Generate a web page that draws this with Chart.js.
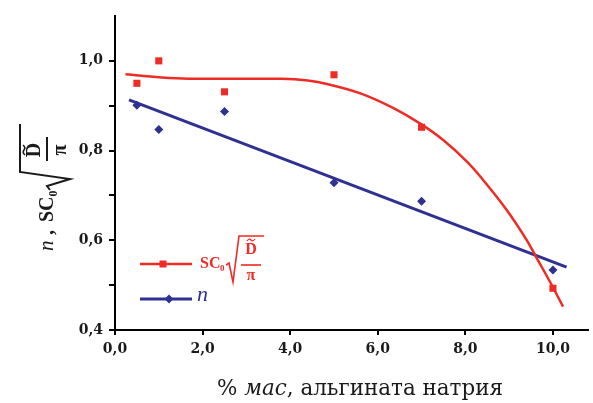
<!DOCTYPE html>
<html><head><meta charset="utf-8">
<script src="https://cdn.jsdelivr.net/npm/chart.js@4/dist/chart.umd.min.js"></script>
<style>html,body{margin:0;padding:0;background:#fff;}canvas{display:block;}</style>
</head><body>
<canvas id="c" width="593" height="403"></canvas>
<script>
// ---- data ----
const X_VALUES = [0.5, 1.0, 2.5, 5.0, 7.0, 10.0];
const SC_VALUES = [0.950, 1.000, 0.931, 0.969, 0.852, 0.493];
const N_VALUES = [0.901, 0.847, 0.887, 0.728, 0.687, 0.534];
const SC_FIT_X = [0.24, 1.4, 2.6, 3.8, 4.4, 4.86, 5.62, 6.37, 6.97, 7.5, 8.03, 8.41, 8.94, 9.39, 9.62, 9.99, 10.23];
const SC_FIT_Y = [0.970, 0.961, 0.960, 0.960, 0.956, 0.948, 0.927, 0.894, 0.860, 0.823, 0.776, 0.734, 0.668, 0.602, 0.562, 0.497, 0.452];
const N_FIT_X = [0.32, 10.31];
const N_FIT_Y = [0.913, 0.540];
const X_TICK_VALUES = [0, 2, 4, 6, 8, 10];
const X_TICK_LABELS = ['0,0', '2,0', '4,0', '6,0', '8,0', '10,0'];
const Y_TICK_VALUES = [0.4, 0.5, 0.6, 0.7, 0.8, 0.9, 1.0];
const Y_TICK_LABELS = ['0,4', '', '0,6', '', '0,8', '', '1,0'];
const X_TITLE_PARTS = ['% ', 'мас', ', альгината натрия'];
const LEGEND_N = 'n';

const RED = '#ee2b24';
const BLUE = '#2e3192';
const SERIF = '"Liberation Serif", "DejaVu Serif", serif';
const WIDE_SERIF = '"DejaVu Serif", serif';
const zip = (xs, ys) => xs.map((x, i) => ({ x: x, y: ys[i] }));

function drawExpr(ctx, ox, oy, g, color) {
  ctx.save();
  ctx.translate(ox, oy);
  if (g.rot) ctx.rotate(-Math.PI / 2);
  ctx.fillStyle = color; ctx.strokeStyle = color;
  ctx.textBaseline = 'alphabetic'; ctx.textAlign = 'left';
  ctx.font = g.w + ' ' + g.f + 'px ' + SERIF;
  ctx.fillText('SC', 0, 0);
  ctx.font = g.w + ' ' + g.subF + 'px ' + SERIF;
  ctx.fillText('0', g.subU, g.subV);
  ctx.lineWidth = g.lw; ctx.lineJoin = 'miter'; ctx.lineCap = 'butt';
  ctx.beginPath();
  g.rad.forEach((p, i) => i ? ctx.lineTo(p[0], p[1]) : ctx.moveTo(p[0], p[1]));
  ctx.stroke();
  ctx.textAlign = 'center';
  ctx.font = g.w + ' ' + g.f + 'px ' + SERIF;
  ctx.fillText('D', g.fracU, g.dV);
  const c = g.fracU, t = g.tildeV, hw = g.tildeW;
  ctx.lineWidth = g.lw * 0.8;
  ctx.beginPath();
  ctx.moveTo(c - hw, t + 1);
  ctx.quadraticCurveTo(c - hw / 2, t - 2, c, t);
  ctx.quadraticCurveTo(c + hw / 2, t + 2, c + hw, t - 1);
  ctx.stroke();
  ctx.fillRect(g.barU0, g.barV - g.lw / 2, g.barU1 - g.barU0, g.lw);
  ctx.font = g.w + ' ' + g.f + 'px ' + SERIF;
  ctx.fillText('π', g.fracU, g.piV);
  ctx.restore();
}

const bgPlugin = {
  id: 'bg',
  beforeDraw(chart) {
    const ctx = chart.ctx;
    ctx.save(); ctx.fillStyle = '#ffffff';
    ctx.fillRect(0, 0, chart.width, chart.height); ctx.restore();
  }
};

const textPlugin = {
  id: 'texts',
  afterDraw(chart) {
    const ctx = chart.ctx;
    // x-axis title
    ctx.save();
    ctx.fillStyle = '#1a1a1a'; ctx.textBaseline = 'alphabetic'; ctx.textAlign = 'left';
    const fonts = ['22px ' + WIDE_SERIF, 'italic 22px ' + WIDE_SERIF, '22px ' + WIDE_SERIF];
    let total = 0;
    X_TITLE_PARTS.forEach((s, i) => { ctx.font = fonts[i]; total += ctx.measureText(s).width; });
    const sx = 286 / total;
    ctx.translate(360 - 143, 395);
    ctx.scale(Math.min(1.15, Math.max(0.85, sx)), 1);
    let x = 0;
    X_TITLE_PARTS.forEach((s, i) => { ctx.font = fonts[i]; ctx.fillText(s, x, 0); x += ctx.measureText(s).width; });
    ctx.restore();

    // y-axis title (rotated)
    ctx.save();
    ctx.translate(53, 222); ctx.rotate(-Math.PI / 2);
    ctx.fillStyle = '#1a1a1a'; ctx.textBaseline = 'alphabetic'; ctx.textAlign = 'left';
    ctx.font = 'italic 21px ' + SERIF;
    ctx.fillText('n', -29, 0);
    ctx.font = 'bold 20px ' + SERIF;
    ctx.fillText(',', -13, 0);
    ctx.restore();
    drawExpr(ctx, 53, 222, {
      rot: true, f: 20, w: 'bold', subF: 12, subU: 25.5, subV: 4,
      rad: [[32, -3], [36, -6], [43, 17], [50, -33], [98, -33]], lw: 2,
      fracU: 72, dV: -13, tildeV: -29, tildeW: 5, barU0: 61, barU1: 85, barV: -6, piV: 13
    }, '#1a1a1a');

    // legend
    ctx.save();
    ctx.strokeStyle = RED; ctx.lineWidth = 2.5;
    ctx.beginPath(); ctx.moveTo(140, 264); ctx.lineTo(192, 264); ctx.stroke();
    ctx.fillStyle = RED; ctx.fillRect(163 - 3.5, 264 - 3.5, 7, 7);
    ctx.strokeStyle = BLUE; ctx.lineWidth = 3;
    ctx.beginPath(); ctx.moveTo(140, 299); ctx.lineTo(192, 299); ctx.stroke();
    ctx.fillStyle = BLUE;
    ctx.beginPath(); ctx.moveTo(169, 294.5); ctx.lineTo(173.5, 299); ctx.lineTo(169, 303.5); ctx.lineTo(164.5, 299); ctx.closePath(); ctx.fill();
    ctx.font = 'italic 22px ' + SERIF; ctx.textBaseline = 'alphabetic'; ctx.textAlign = 'left';
    ctx.fillText(LEGEND_N, 197, 301);
    ctx.restore();
    drawExpr(ctx, 200, 268, {
      rot: false, f: 16, w: 'bold', subF: 9, subU: 20, subV: 3,
      rad: [[26, -3], [29, -5], [33, 14], [39, -32], [64, -32]], lw: 1.6,
      fracU: 51, dV: -14, tildeV: -28, tildeW: 4, barU0: 41, barU1: 61, barV: -3, piV: 12
    }, RED);
  }
};

const tickFont = { family: '"DejaVu Serif", serif', weight: 'bold', size: 14 };

new Chart(document.getElementById('c'), {
  type: 'scatter',
  data: {
    datasets: [
      { label: 'SC fit', data: zip(SC_FIT_X, SC_FIT_Y), showLine: true, borderColor: RED, borderWidth: 2.5,
        pointRadius: 0, tension: 0.4, fill: false },
      { label: 'n fit', data: zip(N_FIT_X, N_FIT_Y), showLine: true, borderColor: BLUE, borderWidth: 3,
        pointRadius: 0, fill: false },
      { label: 'SC', data: zip(X_VALUES, SC_VALUES), pointStyle: 'rect', pointRadius: 5,
        backgroundColor: RED, borderColor: RED, borderWidth: 0 },
      { label: 'n', data: zip(X_VALUES, N_VALUES), pointStyle: 'rectRot', pointRadius: 4.5,
        backgroundColor: BLUE, borderColor: BLUE, borderWidth: 0 }
    ]
  },
  options: {
    responsive: false, animation: false, devicePixelRatio: 1,
    layout: { padding: { top: 16, right: 0, left: 0, bottom: 0 } },
    plugins: { legend: { display: false }, tooltip: { enabled: false } },
    scales: {
      x: {
        type: 'linear', min: 0, max: 10.8,
        afterBuildTicks: s => { s.ticks = X_TICK_VALUES.map(v => ({ value: v })); },
        afterFit: s => { s.height = 73; },
        ticks: { callback: (v, i) => X_TICK_LABELS[i], font: tickFont, color: '#1a1a1a', padding: 6,
                 maxRotation: 0, autoSkip: false },
        grid: { drawOnChartArea: false, drawTicks: true, tickLength: 5, color: '#000', lineWidth: 2 },
        border: { display: true, color: '#000', width: 2 }
      },
      y: {
        type: 'linear', min: 0.4, max: 1.1,
        afterBuildTicks: s => { s.ticks = Y_TICK_VALUES.map(v => ({ value: v })); },
        afterFit: s => { s.width = 115; },
        ticks: { callback: (v, i) => Y_TICK_LABELS[i], font: tickFont, color: '#1a1a1a', padding: 6, autoSkip: false },
        grid: { drawOnChartArea: false, drawTicks: true, tickLength: 6, color: '#000', lineWidth: 2 },
        border: { display: true, color: '#000', width: 2 }
      }
    }
  },
  plugins: [bgPlugin, textPlugin]
});
</script>
</body></html>
